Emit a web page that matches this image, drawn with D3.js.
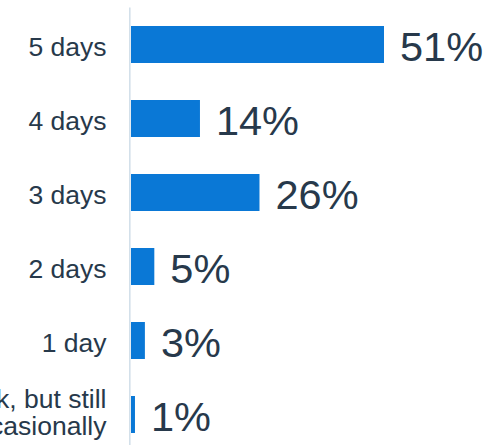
<!DOCTYPE html>
<html>
<head>
<meta charset="utf-8">
<script src="https://cdn.jsdelivr.net/npm/d3@7"></script>
<style>
  html, body { margin: 0; padding: 0; background: #fff; }
  svg { display: block; }
  text { font-family: "Liberation Sans", Arial, sans-serif; }
</style>
</head>
<body>
<svg id="chart" width="498" height="445"></svg>
<script>
// Data
const categories = ["5 days", "4 days", "3 days", "2 days", "1 day", "0 days"];
const categoryLines = [
  ["5 days"],
  ["4 days"],
  ["3 days"],
  ["2 days"],
  ["1 day"],
  ["I don't go in to work, but still", "go in to the office occasionally"]
];
const values = [51, 13.9, 25.9, 4.7, 2.8, 0.8];

const W = 498, H = 445;
const svg = d3.select("#chart");

const x = d3.scaleLinear().domain([0, 51]).range([131, 384]);
const y = d3.scaleBand().domain(categories).range([7.5, 451.5])
  .paddingInner(0.5).paddingOuter(0.25);

const textColor = "#27394b";
const barColor = "#0a78d6";

// axis line
svg.append("line")
  .attr("x1", 129.8).attr("x2", 129.8)
  .attr("y1", y.range()[0]).attr("y2", y.range()[1])
  .attr("stroke", "#d3e0ea").attr("stroke-width", 1.6);

// bars
svg.selectAll("rect.bar").data(values).join("rect")
  .attr("class", "bar")
  .attr("x", x(0))
  .attr("y", (d, i) => y(categories[i]))
  .attr("width", d => x(d) - x(0))
  .attr("height", y.bandwidth())
  .attr("fill", barColor);

// value labels
const fmt = d3.format(".0f");
svg.selectAll("text.val").data(values).join("text")
  .attr("class", "val")
  .attr("x", d => x(d) + 16)
  .attr("y", (d, i) => y(categories[i]) + y.bandwidth() / 2)
  .attr("dy", "0.39em")
  .attr("font-size", 41.5)
  .attr("fill", textColor)
  .text(d => fmt(d) + "%");

// category labels
const lineH = 27;
categories.forEach((c, i) => {
  const lines = categoryLines[i];
  const cy = y(c) + y.bandwidth() / 2;
  const t = svg.append("text")
    .attr("text-anchor", "end")
    .attr("font-size", 26.5)
    .attr("fill", textColor);
  const firstBase = lines.length === 1 ? cy + 11 : cy - 7;
  lines.forEach((l, j) => {
    t.append("tspan")
      .attr("x", 106.5)
      .attr("y", firstBase + j * lineH)
      .text(l);
  });
});
</script>
</body>
</html>
